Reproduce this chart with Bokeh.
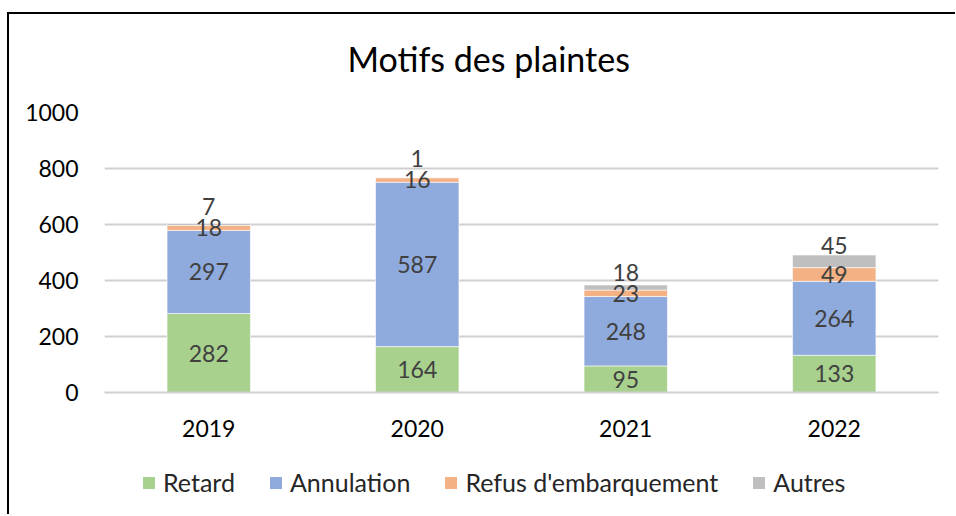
from bokeh.plotting import figure
from bokeh.layouts import column
from bokeh.models import ColumnDataSource, Range1d, FixedTicker, Legend, LegendItem
from bokeh.core.properties import value
from bokeh.embed import file_html
from bokeh.resources import INLINE

years = ["2019", "2020", "2021", "2022"]
retard = [282, 164, 95, 133]
annulation = [297, 587, 248, 264]
refus = [18, 16, 23, 49]
autres = [7, 1, 18, 45]
series_names = ["Retard", "Annulation", "Refus d'embarquement", "Autres"]
colors = ["#A9D18E", "#8FAADC", "#F4B183", "#BFBFBF"]
y_ticks = [0, 200, 400, 600, 800, 1000]

FONT = "Lato"
W = 946
HP, HL = 458, 55
FL, FR, FT, FB = 95, 17, 111, 67  # frame borders

p = figure(x_range=years, y_range=Range1d(0, 1000), width=W, height=HP,
           output_backend="svg", toolbar_location=None,
           min_border_left=FL, min_border_right=FR, min_border_top=FT, min_border_bottom=FB)
p.outline_line_color = None
p.background_fill_color = "white"
p.border_fill_color = None
p.styles = {"margin-top": "-13px"}

p.title.text = "Motifs des plaintes"
p.title.align = "left"
p.title.text_font = FONT
p.title.text_font_size = "34px"
p.title.text_font_style = "normal"
p.title.text_color = "black"
p.title.standoff = 68
p.title.offset = 243

src = ColumnDataSource(dict(year=years, retard=retard, annulation=annulation, refus=refus, autres=autres))
keys = ["retard", "annulation", "refus", "autres"]
rs = p.vbar_stack(keys, x="year", width=0.4, color=colors, source=src,
                  line_color="white", line_width=0.6)

# data labels
u = 1000 / (HP - FT - FB)  # data units per pixel
lab_x, lab_y, lab_t = [], [], []
for i, yr in enumerate(years):
    base = 0
    vals = [retard[i], annulation[i], refus[i], autres[i]]
    centers = []
    for v in vals:
        centers.append(base + v / 2)
        base += v
    for k in range(3):
        lab_x.append(yr); lab_y.append(centers[k]); lab_t.append(str(vals[k]))
    top = base
    lab_x.append(yr)
    lab_y.append(max(top + 10 * u, centers[2] + 21 * u))
    lab_t.append(str(vals[3]))

p.text(x=lab_x, y=lab_y, text=lab_t, text_align="center", text_baseline="middle",
       text_font=value(FONT), text_font_size="23px", text_color="#404040")

# axes
p.yaxis.ticker = FixedTicker(ticks=y_ticks)
p.yaxis.axis_line_color = None
p.yaxis.major_tick_line_color = None
p.yaxis.minor_tick_line_color = None
p.yaxis.major_tick_out = 0
p.yaxis.major_tick_in = 0
p.yaxis.major_label_standoff = 26
p.yaxis.major_label_text_font = FONT
p.yaxis.major_label_text_font_size = "23px"
p.yaxis.major_label_text_color = "black"

p.xaxis.axis_line_color = "#d0d0d0"
p.xaxis.axis_line_width = 2
p.xaxis.major_tick_line_color = None
p.xaxis.major_tick_out = 0
p.xaxis.major_tick_in = 0
p.xaxis.major_label_standoff = 27
p.xaxis.major_label_text_font = FONT
p.xaxis.major_label_text_font_size = "23px"
p.xaxis.major_label_text_color = "black"

p.xgrid.grid_line_color = None
p.ygrid.grid_line_color = "#d0d0d0"
p.ygrid.grid_line_width = 2
p.ygrid.ticker = FixedTicker(ticks=y_ticks)

# legend strip below the chart
lg = figure(width=W, height=HL, output_backend="svg", toolbar_location=None,
            x_range=Range1d(0, 1), y_range=Range1d(0, 1),
            x_axis_location=None, y_axis_location=None, min_border=0)
lg.outline_line_color = None
lg.grid.visible = False
lg.background_fill_color = None
lg.border_fill_color = None
lr = [lg.vbar(x=[0], top=[0], width=0, fill_color=c, line_color=None) for c in colors]
legend = Legend(items=[LegendItem(label=n, renderers=[r]) for n, r in zip(series_names, lr)],
                location=(37, 17), orientation="horizontal",
                glyph_width=15, glyph_height=15, label_standoff=7, spacing=33,
                padding=0, margin=0, border_line_color=None, background_fill_alpha=0,
                label_text_font=FONT, label_text_font_size="25px", label_text_color="#262626")
lg.add_layout(legend, "center")

layout = column(p, lg, spacing=0)
layout.styles = {"border-left": "2px solid black", "border-top": "2px solid black",
                 "margin-top": "12px", "margin-left": "7px"}

open("out.html", "w").write(file_html(layout, INLINE))
